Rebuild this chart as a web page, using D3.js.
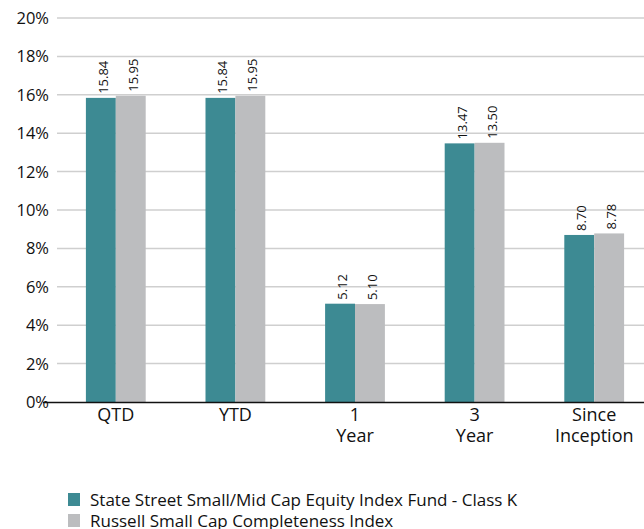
<!DOCTYPE html>
<html>
<head>
<script src="https://d3js.org/d3.v7.min.js"></script>
<style>
  body { margin: 0; background: #fff; }
  text { font-family: "Open Sans", "Noto Sans", sans-serif; }
</style>
</head>
<body>
<script>
var categories = [["QTD"], ["YTD"], ["1", "Year"], ["3", "Year"], ["Since", "Inception"]];
var fundValues = [15.84, 15.84, 5.12, 13.47, 8.70];
var indexValues = [15.95, 15.95, 5.10, 13.50, 8.78];
var seriesNames = ["State Street Small/Mid Cap Equity Index Fund - Class K", "Russell Small Cap Completeness Index"];
var seriesColors = ["#3d8a93", "#bcbdbf"];
var yTicks = [0, 2, 4, 6, 8, 10, 12, 14, 16, 18, 20];

var w = 644, h = 529;
var svg = d3.select("body").append("svg").attr("width", w).attr("height", h);

var x = d3.scaleBand().domain(d3.range(categories.length)).range([56, 654]).paddingInner(0.5).paddingOuter(0.25);
var xs = d3.scaleBand().domain([0, 1]).range([0, x.bandwidth()]);
var y = d3.scaleLinear().domain([0, 20]).range([402, 18]);

// grid
svg.append("g").selectAll("line").data(yTicks.slice(1)).enter().append("line")
  .attr("x1", 57).attr("x2", w)
  .attr("y1", function(d){ return y(d); }).attr("y2", function(d){ return y(d); })
  .attr("stroke", "#cfcfcf").attr("stroke-width", 1.5);

// y labels
svg.append("g").selectAll("text").data(yTicks).enter().append("text")
  .attr("x", 49).attr("y", function(d){ return y(d) + 6; })
  .attr("text-anchor", "end").style("font-size", "16.5px").attr("fill", "#111")
  .text(function(d){ return d + "%"; });

var rows = categories.map(function(c, i){ return [fundValues[i], indexValues[i]]; });

var groups = svg.append("g").selectAll("g").data(rows).enter().append("g")
  .attr("transform", function(d, i){ return "translate(" + x(i) + ",0)"; });

groups.selectAll("rect").data(function(d){ return d; }).enter().append("rect")
  .attr("x", function(d, j){ return xs(j); })
  .attr("width", xs.bandwidth())
  .attr("y", function(d){ return y(d); })
  .attr("height", function(d){ return y(0) - y(d); })
  .attr("fill", function(d, j){ return seriesColors[j]; });

groups.selectAll("text.val").data(function(d){ return d; }).enter().append("text")
  .attr("class", "val")
  .attr("transform", function(d, j){
    return "translate(" + (xs(j) + xs.bandwidth() / 2 + 7) + "," + (y(d) - 4) + ") rotate(-90)";
  })
  .style("font-size", "13px").attr("fill", "#111")
  .text(function(d){ return d.toFixed(2); });

// x axis line
svg.append("line").attr("x1", 43).attr("x2", w).attr("y1", y(0) + 0.5).attr("y2", y(0) + 0.5)
  .attr("stroke", "#111").attr("stroke-width", 1.5);

// x labels
var xl = svg.append("g").selectAll("text").data(categories).enter().append("text")
  .attr("text-anchor", "middle").style("font-size", "18px").attr("fill", "#111")
  .attr("transform", function(d, i){ return "translate(" + (x(i) + x.bandwidth() / 2) + ",421)"; });
xl.selectAll("tspan").data(function(d){ return d; }).enter().append("tspan")
  .attr("x", 0).attr("dy", function(d, k){ return k === 0 ? 0 : 20.5; })
  .text(function(d){ return d; });

// legend
var lg = svg.append("g").selectAll("g").data(seriesNames).enter().append("g")
  .attr("transform", function(d, i){ return "translate(68," + (493 + i * 21) + ")"; });
lg.append("rect").attr("width", 12).attr("height", 13).attr("fill", function(d, i){ return seriesColors[i]; });
lg.append("text").attr("x", 22).attr("y", 13).style("font-size", "17px").attr("fill", "#111")
  .text(function(d){ return d; });
</script>
</body>
</html>
